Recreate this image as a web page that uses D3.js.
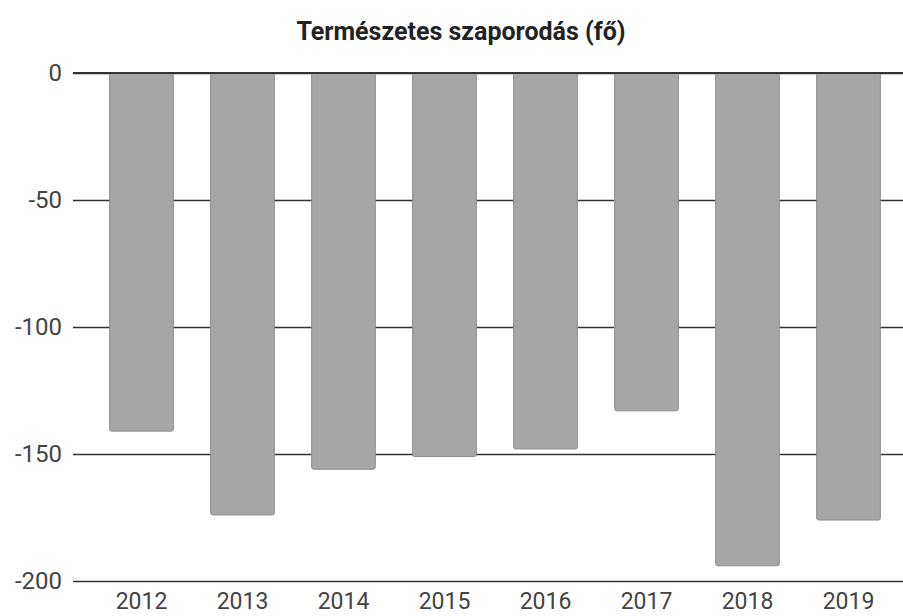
<!DOCTYPE html>
<html>
<head>
<meta charset="utf-8">
<script src="https://cdn.jsdelivr.net/npm/d3@7"></script>
<style>
  body { margin: 0; background: #fff; }
  svg { display: block; }
  svg text { font-family: Roboto, "Noto Sans", sans-serif; }
</style>
</head>
<body>
<svg id="chart" width="903" height="616"></svg>
<script>
const years = ["2012", "2013", "2014", "2015", "2016", "2017", "2018", "2019"];
const values = [-141, -174, -156, -151, -148, -133, -194, -176];
const yTicks = [0, -50, -100, -150, -200];
const title = "Természetes szaporodás (fő)";

const svg = d3.select("#chart");
const x = d3.scaleBand().domain(years).range([91, 899]).paddingInner(0.37).paddingOuter(0.185);
const y = d3.scaleLinear().domain([-200, 0]).range([581, 73]);

svg.append("text")
  .attr("x", 461).attr("y", 40)
  .attr("text-anchor", "middle")
  .attr("font-size", 25).attr("font-weight", 700)
  .attr("fill", "#222")
  .text(title);

// gridlines
const yAxis = svg.append("g")
  .attr("transform", "translate(73,0)")
  .call(d3.axisRight(y).tickValues(yTicks).tickSize(830).tickFormat(d3.format("d")));
yAxis.attr("font-family", null).attr("font-size", null);
yAxis.select(".domain").remove();
yAxis.selectAll(".tick line").attr("stroke", "#333").attr("stroke-width", 1.5);
yAxis.selectAll(".tick text")
  .attr("x", -11).attr("text-anchor", "end")
  .attr("font-size", 24).attr("fill", "#444")
  .text(d => String(d));

svg.append("g").selectAll("rect")
  .data(values)
  .join("rect")
  .attr("x", (d, i) => x(years[i]))
  .attr("y", y(0))
  .attr("width", x.bandwidth())
  .attr("height", d => y(d) - y(0))
  .attr("rx", 2)
  .attr("fill", "#a6a6a6")
  .attr("stroke", "#8c8c8c")
  .attr("stroke-width", 1);

// zero line on top
svg.append("line")
  .attr("x1", 73).attr("x2", 903)
  .attr("y1", y(0)).attr("y2", y(0))
  .attr("stroke", "#333").attr("stroke-width", 1.8);

const xAxis = svg.append("g")
  .attr("transform", "translate(0,581)")
  .call(d3.axisBottom(x).tickSize(0).tickPadding(12));
xAxis.attr("font-family", null).attr("font-size", null);
xAxis.select(".domain").remove();
xAxis.selectAll(".tick text").attr("font-size", 23).attr("fill", "#444");
</script>
</body>
</html>
